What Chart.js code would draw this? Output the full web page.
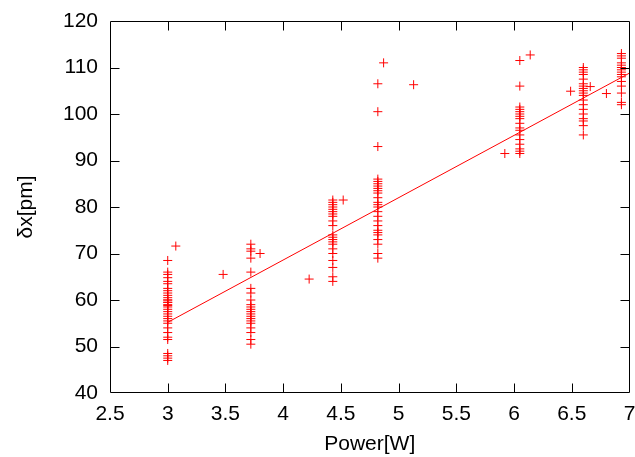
<!DOCTYPE html>
<html>
<head>
<meta charset="utf-8">
<script src="https://cdn.jsdelivr.net/npm/chart.js@4/dist/chart.umd.min.js"></script>
<style>
html,body{margin:0;padding:0;background:#fff;}
canvas{display:block;}
</style>
</head>
<body>
<canvas id="c" width="635" height="457"></canvas>
<script>
// ---- data ----
const clusterPower = [3.0, 3.72, 4.43, 4.82, 6.05, 6.6, 6.93];
const cluster3_00 = [68.5, 66, 65.5, 64.8, 64, 63.5, 62.5, 62, 61.5, 61, 60.5, 60, 60, 59.5, 59.5, 59, 58.8, 58.5, 58, 57.5, 57, 56.5, 56, 55.5, 55, 54, 53, 52, 51.5, 48.5, 48, 47.5, 47];
const cluster3_72 = [72, 71, 70.5, 69, 66, 62.5, 61.5, 60, 59, 58.5, 58, 57.5, 57, 56.5, 56, 55.5, 55, 54, 53, 51.5, 50.5];
const cluster4_43 = [81.5, 81, 80.5, 80, 79.5, 79, 78.5, 78, 77, 76, 74, 73.5, 73, 72.5, 72, 71, 70, 68.5, 67, 65, 64];
const cluster4_82 = [106.5, 100.5, 93, 86, 85.5, 85, 84.5, 84, 83.5, 83, 82, 81, 80.5, 80, 79, 78, 77, 76, 75, 74.5, 74, 73, 72, 70, 69];
const cluster6_05 = [111.5, 106, 101.5, 101, 100.5, 100, 99.5, 99, 98, 97, 96.5, 95.5, 94.5, 93.5, 92.5, 92, 91.5];
const cluster6_60 = [110, 109.5, 109, 108.5, 107.5, 106.5, 106, 105.5, 105, 104.5, 104, 103, 102, 101, 100, 99, 98.5, 97.5, 95.5];
const cluster6_93 = [113, 112.5, 112, 111, 110.5, 110, 109.5, 109, 108.5, 108, 107, 106, 104.5, 102.5, 102];
const clusterDelta = [cluster3_00, cluster3_72, cluster4_43, cluster4_82, cluster6_05, cluster6_60, cluster6_93];
const extraPower = [3.07, 3.48, 3.80, 4.225, 4.52, 4.87, 5.13, 5.92, 6.14, 6.49, 6.66, 6.8];
const extraDelta = [71.6, 65.5, 70, 64.5, 81.5, 111, 106.3, 91.5, 112.7, 104.9, 105.9, 104.4];
const fitPower = [3.0, 7.0];
const fitDelta = [55.2, 108.8];
const xTickLabels = ['2.5', '3', '3.5', '4', '4.5', '5', '5.5', '6', '6.5', '7'];
const yTickLabels = ['40', '50', '60', '70', '80', '90', '100', '110', '120'];

// ---- build datasets ----
const measured = [];
clusterPower.forEach((p, i) => clusterDelta[i].forEach(d => measured.push({x: p, y: d})));
extraPower.forEach((p, i) => measured.push({x: p, y: extraDelta[i]}));
const fitLine = fitPower.map((p, i) => ({x: p, y: fitDelta[i]}));

const FONT = 'Liberation Sans, Arial, sans-serif';
Chart.defaults.font.family = FONT;
Chart.defaults.font.size = 21;
Chart.defaults.color = '#000';

const framePlugin = {
  id: 'frame',
  afterDatasetsDraw(chart) {
    const {ctx, chartArea: a, scales: {x, y}} = chart;
    const L = Math.round(a.left) + 0.5, R = Math.round(a.right) - 0.5;
    const T = Math.round(a.top) + 0.5, B = Math.round(a.bottom) - 0.5;
    const tl = 9;
    ctx.save();
    ctx.strokeStyle = '#000';
    ctx.lineWidth = 1;
    ctx.beginPath();
    ctx.rect(L, T, R - L, B - T);
    x.ticks.forEach(t => {
      const px = Math.round(x.getPixelForValue(t.value)) + 0.5;
      if (px <= L + 1 || px >= R - 1) return;
      ctx.moveTo(px, B); ctx.lineTo(px, B - tl);
      ctx.moveTo(px, T); ctx.lineTo(px, T + tl);
    });
    y.ticks.forEach(t => {
      const py = Math.round(y.getPixelForValue(t.value)) + 0.5;
      if (py <= T + 1 || py >= B - 1) return;
      ctx.moveTo(L, py); ctx.lineTo(L + tl, py);
      ctx.moveTo(R, py); ctx.lineTo(R - tl, py);
    });
    ctx.stroke();
    ctx.restore();
  }
};

new Chart(document.getElementById('c'), {
  type: 'scatter',
  data: {
    datasets: [
      {
        label: 'measured',
        data: measured,
        pointStyle: 'cross',
        pointRadius: 4.5,
        pointBorderWidth: 1,
        borderColor: '#ff0000',
        backgroundColor: '#ff0000',
        clip: false,
        order: 1
      },
      {
        type: 'line',
        label: 'fit',
        data: fitLine,
        borderColor: '#ff0000',
        borderWidth: 1,
        pointRadius: 0,
        fill: false,
        tension: 0,
        clip: false,
        order: 2
      }
    ]
  },
  options: {
    responsive: false,
    animation: false,
    events: [],
    layout: {padding: {top: 21, right: 3.5, left: 0, bottom: 0}},
    plugins: {legend: {display: false}, tooltip: {enabled: false}},
    scales: {
      x: {
        type: 'linear',
        min: 2.5, max: 7,
        grid: {display: false, drawTicks: false},
        border: {display: false},
        ticks: {
          stepSize: 0.5,
          padding: 9,
          maxRotation: 0,
          autoSkip: false,
          callback: (v, i) => xTickLabels[i]
        },
        title: {display: true, text: 'Power[W]', font: {size: 21}, padding: {top: 0, bottom: 0}},
        afterFit(s) { s.height = 64; s.paddingLeft = 0; s.paddingRight = 0; }
      },
      y: {
        type: 'linear',
        min: 40, max: 120,
        grid: {display: false, drawTicks: false},
        border: {display: false},
        ticks: {
          stepSize: 10,
          padding: 12,
          autoSkip: false,
          callback: (v, i) => yTickLabels[i]
        },
        title: {display: true, text: 'δx[pm]', font: {size: 21}, padding: {top: 14, bottom: 0}},
        afterFit(s) { s.width = 110; s.paddingTop = 0; s.paddingBottom = 0; }
      }
    }
  },
  plugins: [framePlugin]
});
</script>
</body>
</html>
